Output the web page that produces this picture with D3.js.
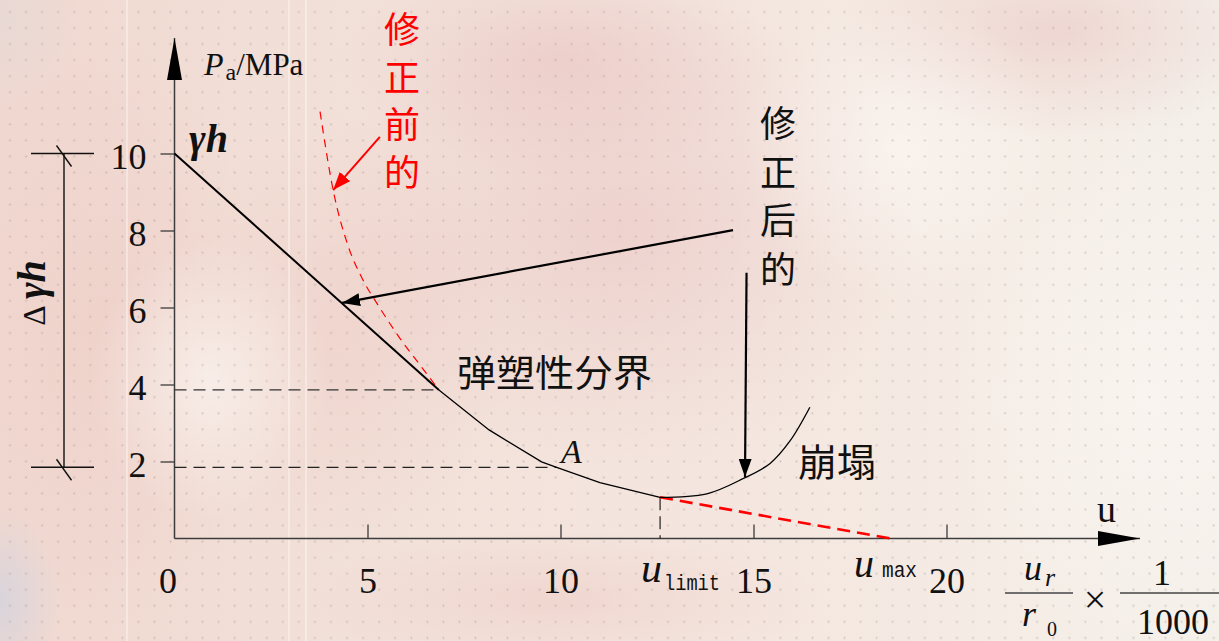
<!DOCTYPE html>
<html>
<head>
<meta charset="utf-8">
<script src="https://cdn.jsdelivr.net/npm/d3@7/dist/d3.min.js"></script>
<style>
  html, body { margin: 0; padding: 0; background: #f3e4dd; }
  svg { display: block; }
</style>
</head>
<body>
<svg id="chart" width="1219" height="641"></svg>
<script>
// ---- data (u in ‰ of r0, Pa in MPa) ----
const xTicks = [0, 5, 10, 15, 20];
const yTicks = [2, 4, 6, 8, 10];

// elastic stage after correction: straight from γh down to the elastic-plastic boundary
const elasticU = [0, 6.85];
const elasticP = [10, 3.86];

// plastic stage after correction, down to u_limit
const plasticU = [6.85, 8.15, 9.51, 9.9, 11.02, 12.58];
const plasticP = [3.86, 2.82, 1.99, 1.85, 1.45, 1.07];

// collapse branch beyond u_limit
const collapseU = [12.58, 13.79, 14.74, 15.43, 15.95, 16.46];
const collapseP = [1.07, 1.16, 1.56, 1.95, 2.54, 3.41];

// curve before correction
const beforeU = [3.77, 4.11, 4.49, 4.85, 5.3, 5.84, 6.35, 6.85];
const beforeP = [11.09, 9.05, 7.62, 6.78, 6.02, 5.2, 4.52, 3.86];

// extrapolated line u_limit -> u_max
const extrapU = [12.58, 18.55];
const extrapP = [1.07, 0];

// key points
const gammaH = 10;
const boundaryU = 6.85, boundaryP = 3.86;
const pointAU = 9.9, pointAP = 1.85;
const uLimit = 12.58, pLimit = 1.07;

// annotation arrows [fromU, fromP, toU, toP]
const arrowAfterA = [14.47, 8.01, 4.34, 6.12];
const arrowAfterB = [14.82, 6.90, 14.78, 1.60];
const arrowBefore = [5.32, 10.43, 4.11, 9.05];

const zip = (a, b) => a.map((v, i) => [v, b[i]]);

// ---- drawing ----
const svg = d3.select("#chart");
const W = 1219, H = 641;
const x = d3.scaleLinear().domain([0, 20]).range([174.5, 946.5]);
const y = d3.scaleLinear().domain([0, 10]).range([538.5, 153.5]);

const defs = svg.append("defs");

// paper background
const lg = defs.append("linearGradient").attr("id", "paper").attr("x1", 0).attr("x2", 1).attr("y1", 0).attr("y2", 0);
[[0, "#f0d8d0"], [0.3, "#f2e1d9"], [0.6, "#f4e6df"], [0.85, "#f5ede6"], [1, "#f4f0ea"]]
  .forEach(([o, c]) => lg.append("stop").attr("offset", o).attr("stop-color", c));

function blob(id, color, op) {
  const g = defs.append("radialGradient").attr("id", id);
  g.append("stop").attr("offset", 0).attr("stop-color", color).attr("stop-opacity", op);
  g.append("stop").attr("offset", 1).attr("stop-color", color).attr("stop-opacity", 0);
}
blob("pink", "#e8bfbe", 0.5);
blob("rose", "#ecc7c0", 0.45);
blob("lav", "#d3d3df", 0.8);
blob("grey", "#e3d9d8", 0.6);
blob("light", "#fbf6f2", 0.7);

const pat = defs.append("pattern").attr("id", "dots").attr("patternUnits", "userSpaceOnUse")
  .attr("width", 16.05).attr("height", 16.05).attr("x", 2).attr("y", 4);
pat.append("circle").attr("cx", 8).attr("cy", 8).attr("r", 1.1).attr("fill", "rgba(150,128,126,0.32)");

const bg = svg.append("g");
bg.append("rect").attr("width", W).attr("height", H).attr("fill", "url(#paper)");
[
  ["pink", 620, 230, 300, 240],
  ["pink", 560, 60, 220, 120],
  ["rose", 340, 330, 170, 220],
  ["rose", 110, 330, 150, 300],
  ["pink", 1060, 30, 220, 110],
  ["rose", 560, 600, 260, 70],
  ["lav", 0, 600, 60, 90],
  ["grey", 0, 20, 80, 90],
  ["light", 900, 150, 160, 150],
  ["light", 1150, 400, 200, 260],
  ["light", 210, 380, 120, 140]
].forEach(([id, cx, cy, rx, ry]) =>
  bg.append("ellipse").attr("cx", cx).attr("cy", cy).attr("rx", rx).attr("ry", ry).attr("fill", `url(#${id})`));
[127, 289, 306].forEach(px =>
  bg.append("line").attr("x1", px).attr("x2", px).attr("y1", 0).attr("y2", H)
    .attr("stroke", "#fff8f4").attr("stroke-width", 1.6).attr("opacity", 0.55));
bg.append("rect").attr("width", W).attr("height", H).attr("fill", "url(#dots)");

// arrowheads
function head(id, color, len, half) {
  defs.append("marker").attr("id", id).attr("markerUnits", "userSpaceOnUse")
    .attr("viewBox", `0 ${-half} ${len} ${2 * half}`).attr("refX", len).attr("refY", 0)
    .attr("markerWidth", len).attr("markerHeight", 2 * half).attr("orient", "auto")
    .append("path").attr("d", `M0,${-half}L${len},0L0,${half}Z`).attr("fill", color);
}
head("ah-axis", "#000", 42, 7.5);
head("ah-black", "#000", 18, 6.5);
head("ah-red", "#f00", 18, 7);

const serif = "'Liberation Serif', 'Times New Roman', serif";
const cjk = "'Noto Sans CJK SC', sans-serif";
const mono = "'Liberation Mono', 'DejaVu Sans Mono', monospace";

// axes
const axisColor = "#3c3c3c";
const yAxis = svg.append("g").attr("transform", `translate(${x(0)},0)`)
  .call(d3.axisLeft(y).tickValues(yTicks).tickSize(14).tickPadding(14).tickFormat(d3.format("d")));
yAxis.select(".domain").remove();
yAxis.selectAll(".tick line").attr("stroke", axisColor).attr("stroke-width", 1.3);
yAxis.selectAll(".tick text").attr("font-family", serif).attr("font-size", 36).attr("fill", "#111").attr("dy", "0.42em");

const xAxis = svg.append("g").attr("transform", `translate(0,${y(0)})`)
  .call(d3.axisBottom(x).tickValues(xTicks).tickSize(-14).tickPadding(29).tickFormat(d3.format("d")));
xAxis.select(".domain").remove();
xAxis.selectAll(".tick line").attr("stroke", axisColor).attr("stroke-width", 1.3)
  .attr("opacity", d => d === 0 ? 0 : 1);
xAxis.selectAll(".tick text").attr("font-family", serif).attr("font-size", 36).attr("fill", "#111")
  .attr("dx", d => d === 0 ? -7 : 0);

svg.append("line").attr("x1", x(0)).attr("x2", 1140).attr("y1", y(0)).attr("y2", y(0))
  .attr("stroke", axisColor).attr("stroke-width", 1.5).attr("marker-end", "url(#ah-axis)");
svg.append("line").attr("x1", x(0)).attr("x2", x(0)).attr("y1", y(0)).attr("y2", 38)
  .attr("stroke", axisColor).attr("stroke-width", 1.5).attr("marker-end", "url(#ah-axis)");

// guide lines
const dash = "12,7";
svg.append("line").attr("x1", x(0)).attr("x2", x(boundaryU)).attr("y1", y(boundaryP)).attr("y2", y(boundaryP))
  .attr("stroke", "#333").attr("stroke-width", 1.2).attr("stroke-dasharray", dash);
svg.append("line").attr("x1", x(0)).attr("x2", x(pointAU)).attr("y1", y(pointAP)).attr("y2", y(pointAP))
  .attr("stroke", "#222").attr("stroke-width", 1.2).attr("stroke-dasharray", dash);
svg.append("line").attr("x1", x(uLimit)).attr("x2", x(uLimit)).attr("y1", y(pLimit)).attr("y2", y(0))
  .attr("stroke", "#222").attr("stroke-width", 1.2).attr("stroke-dasharray", "13,6");

const line = d3.line().x(d => x(d[0])).y(d => y(d[1]));

// curve before correction (red, thin dashed)
svg.append("path").datum(zip(beforeU, beforeP))
  .attr("d", line.curve(d3.curveMonotoneX)).attr("fill", "none")
  .attr("stroke", "#f00").attr("stroke-width", 1.2).attr("stroke-dasharray", "8,6");

// extrapolation to u_max (red, thick dashed)
svg.append("path").datum(zip(extrapU, extrapP))
  .attr("d", line.curve(d3.curveLinear)).attr("fill", "none")
  .attr("stroke", "#f00").attr("stroke-width", 2.6).attr("stroke-dasharray", "13,7");

// corrected curve
svg.append("path").datum(zip(elasticU, elasticP))
  .attr("d", line.curve(d3.curveLinear)).attr("fill", "none").attr("stroke", "#000").attr("stroke-width", 2);
svg.append("path").datum(zip(plasticU, plasticP))
  .attr("d", line.curve(d3.curveLinear)).attr("fill", "none").attr("stroke", "#000").attr("stroke-width", 1.3);
svg.append("path").datum(zip(collapseU, collapseP))
  .attr("d", line.curve(d3.curveCatmullRom)).attr("fill", "none").attr("stroke", "#000").attr("stroke-width", 1.3);

// annotation arrows
function arrow(a, color, w, marker) {
  svg.append("line").attr("x1", x(a[0])).attr("y1", y(a[1])).attr("x2", x(a[2])).attr("y2", y(a[3]))
    .attr("stroke", color).attr("stroke-width", w).attr("marker-end", `url(#${marker})`);
}
arrow(arrowAfterA, "#000", 2.2, "ah-black");
arrow(arrowAfterB, "#000", 2.2, "ah-black");
arrow(arrowBefore, "#f00", 2, "ah-red");

// Δγh dimension
const dimX = 64;
const dim = svg.append("g").attr("stroke", "#111").attr("stroke-width", 1.4);
dim.append("line").attr("x1", dimX).attr("x2", dimX).attr("y1", y(gammaH)).attr("y2", y(pointAP));
[gammaH, pointAP].forEach(v => {
  dim.append("line").attr("x1", 31).attr("x2", 94).attr("y1", y(v)).attr("y2", y(v));
  dim.append("line").attr("x1", dimX - 7.5).attr("x2", dimX + 7.5).attr("y1", y(v) - 8).attr("y2", y(v) + 13);
});
const dimT = svg.append("text").attr("transform", "translate(45,293) rotate(-90)")
  .attr("text-anchor", "middle").attr("font-family", serif).attr("fill", "#111");
dimT.append("tspan").attr("font-size", 32).text("Δ ");
dimT.append("tspan").attr("font-size", 40).attr("font-style", "italic").attr("font-weight", "bold").text("γh");

// texts
const txt = (px, py, s, size, opts = {}) => {
  const t = svg.append("text").attr("x", px).attr("y", py).attr("font-size", size)
    .attr("font-family", opts.family || serif).attr("fill", opts.fill || "#111").text(s);
  if (opts.italic) t.attr("font-style", "italic");
  if (opts.bold) t.attr("font-weight", "bold");
  if (opts.anchor) t.attr("text-anchor", opts.anchor);
  if (opts.len) t.attr("textLength", opts.len).attr("lengthAdjust", "spacingAndGlyphs");
  return t;
};

// y axis title
const yt = svg.append("text").attr("x", 204).attr("y", 75).attr("font-family", serif).attr("fill", "#111");
yt.append("tspan").attr("font-size", 32).attr("font-style", "italic").text("P");
yt.append("tspan").attr("font-size", 24).attr("dx", 2).attr("dy", 5).text("a");
yt.append("tspan").attr("font-size", 31).attr("dy", -5).text("/MPa");

txt(189, 152, "γh", 40, { italic: true, bold: true });
txt(561, 463, "A", 34, { italic: true });
txt(1097, 522, "u", 38);

txt(457, 387, "弹塑性分界", 37, { family: cjk, len: 195 });
txt(798, 476, "崩塌", 38, { family: cjk, len: 78 });

["修", "正", "前", "的"].forEach((c, i) =>
  txt(402, 43 + i * 47.5, c, 36, { family: cjk, fill: "#f00", anchor: "middle" }));
["修", "正", "后", "的"].forEach((c, i) =>
  txt(778, 137 + i * 48.5, c, 36, { family: cjk, anchor: "middle" }));

// u_limit and u_max
txt(641, 582, "u", 42, { italic: true });
txt(664, 590, "limit", 22, { family: mono, len: 56 });
txt(854, 577, "u", 40, { italic: true });
txt(882, 577, "max", 22, { family: mono, len: 35 });

// axis unit: u_r / r_0 × 1 / 1000
const fr = svg.append("g").attr("stroke", "#444").attr("stroke-width", 1.4);
fr.append("line").attr("x1", 1005).attr("x2", 1073).attr("y1", 593).attr("y2", 593);
fr.append("line").attr("x1", 1120).attr("x2", 1219).attr("y1", 593).attr("y2", 593);
txt(1024, 580, "u", 36, { italic: true });
txt(1045, 586, "r", 26, { italic: true });
txt(1022, 626, "r", 36, { italic: true });
txt(1047, 636, "0", 20);
txt(1095, 613, "×", 40, { anchor: "middle" });
txt(1162, 585, "1", 36, { anchor: "middle" });
txt(1173, 634, "1000", 36, { anchor: "middle" });
</script>
</body>
</html>
